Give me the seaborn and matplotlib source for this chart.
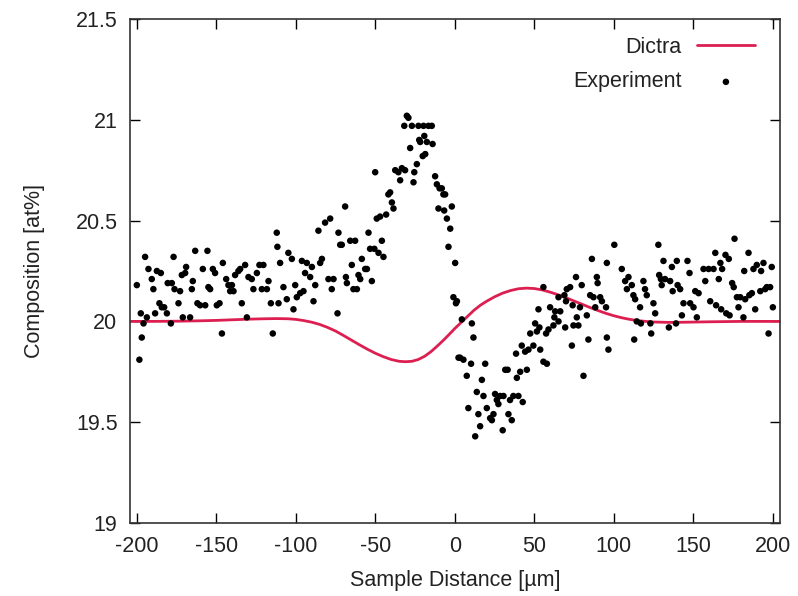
import matplotlib
matplotlib.use("Agg")
import matplotlib.pyplot as plt
import seaborn as sns
import pandas as pd

# Dictra simulated profile
dictra_x = [-205, -190, -175, -160, -150, -140, -130, -120, -112, -105, -100, -95, -90,
            -85, -80, -75, -70, -65, -60, -55, -50, -45, -40, -35, -31, -27, -23, -19,
            -15, -11, -7, -3, 0, 4, 8, 12, 16, 20, 25, 30, 35, 40, 45, 50, 55, 60, 65,
            70, 75, 80, 85, 90, 95, 100, 105, 110, 115, 120, 125, 135, 145, 160, 180, 205]
dictra_y = [20.000, 20.000, 20.001, 20.003, 20.005, 20.008, 20.011, 20.013, 20.014, 20.013,
            20.010, 20.004, 19.996, 19.985, 19.970, 19.952, 19.930, 19.907, 19.884, 19.862,
            19.842, 19.825, 19.811, 19.802, 19.800, 19.802, 19.811, 19.827, 19.850, 19.878,
            19.908, 19.940, 19.965, 19.995, 20.025, 20.055, 20.080, 20.100, 20.122, 20.140,
            20.153, 20.162, 20.165, 20.163, 20.156, 20.145, 20.132, 20.117, 20.101, 20.085,
            20.069, 20.054, 20.040, 20.028, 20.018, 20.010, 20.004, 20.000, 19.997, 19.995,
            19.996, 19.998, 20.000, 20.000]

exp_x = [
    -200.0, -197.5, -195.8, -196.9, -198.4, -194.8, -192.7, -190.6, -189.6, -193.7,
    -188.5, -187.4, -184.9, -185.8, -184.3, -181.1, -182.8, -180.6, -178.0, -178.6,
    -176.9, -176.3, -173.8, -172.8, -171.1, -171.7, -169.0, -169.6, -166.5, -165.4,
    -164.8, -163.3, -161.9, -160.2, -158.5, -157.0, -155.6, -155.0, -153.9, -152.2,
    -150.8, -149.7, -148.0, -146.5, -145.9, -143.8, -142.4, -141.3, -139.2, -140.2,
    -138.2, -136.1, -135.0, -134.0, -131.9, -130.8, -129.8, -127.7, -126.7, -124.5,
    -122.9, -120.4, -121.4, -118.2, -117.2, -115.7, -114.5, -112.0, -111.6, -109.9,
    -110.9, -107.8, -105.7, -104.7,
    -102.5, -101.5, -100.4, -99.4, -97.3, -96.2, -95.2, -94.2, -93.1, -91.0,
    -89.9, -88.9, -87.8, -85.8, -84.7, -83.6, -81.6, -78.4, -79.5, -77.4,
    -76.3, -73.2, -73.8, -72.1, -71.1, -69.0, -68.5, -67.9, -65.8, -64.8,
    -63.8, -62.7, -61.6, -60.6, -59.5, -58.5, -56.4, -55.3, -54.3, -53.3,
    -52.2, -50.6, -50.1, -49.1, -48.0, -47.0, -45.9, -44.9, -43.2, -41.8,
    -40.7, -39.6, -38.6, -37.5, -35.5, -34.4, -33.3, -31.3, -30.2, -29.2,
    -31.8, -28.1, -27.0, -26.0, -25.5, -23.9, -22.9, -22.4, -21.8, -19.7,
    -19.2, -20.2, -18.6, -17.6, -16.6, -14.5, -14.0, -12.4, -11.3, -10.3,
    -9.6, -8.2, -7.2, -6.7, -6.1, -5.0, -4.0, -2.9, -1.9, 0.2,
    -0.9, 0.7, 1.3, 2.3,
    4.4, 10.7, 11.7, 3.3, 5.4, 10.2, 19.1, 7.5, 17.0, 13.8,
    18.0, 8.5, 20.1, 25.3, 26.4, 28.5, 27.4, 30.6, 24.3, 22.2,
    23.3, 33.7, 35.8, 34.7, 36.8, 40.0, 42.7, 14.8, 15.9, 12.8,
    30.1, 31.7, 33.2, 39.0, 41.1, 45.3, 38.5, 42.1, 44.2, 46.3,
    49.4, 53.7, 55.7, 57.9, 47.4, 50.5, 51.6, 53.2, 57.4, 58.9,
    62.0, 65.2, 52.6, 59.9, 63.1, 62.6, 66.3, 69.4, 73.6, 74.6,
    76.7, 77.7, 80.9, 83.0, 84.0, 55.7, 65.2, 68.9, 70.4, 72.5,
    69.9, 74.1, 76.2, 79.8, 78.7, 86.2, 89.3, 89.8, 85.1, 87.2,
    91.4, 92.5, 88.3, 95.6, 95.6, 96.6, 95.1,
    100.3, 105.0, 109.2, 107.1, 111.3, 108.2, 112.3, 113.4, 116.5, 114.4,
    117.0, 112.8, 118.6, 119.6, 120.7, 124.9, 126.0, 128.0, 131.2, 128.5,
    129.6, 132.2, 130.1, 135.4, 136.5, 137.0, 139.6, 140.1, 141.7, 123.0,
    123.5, 134.6, 139.1, 142.8, 143.8, 146.3, 147.6, 148.0, 150.1, 152.2,
    151.2, 153.3, 156.4, 159.6, 162.7, 157.5, 163.8, 160.6, 164.3, 166.0,
    167.0, 168.1, 170.2, 172.3, 167.5, 170.7, 172.8, 174.4, 175.4, 175.9,
    177.4, 178.4, 181.5, 179.5, 182.6, 182.0, 184.7, 185.2, 186.8, 187.8,
    188.9, 189.9, 192.1, 194.1, 195.2, 196.2, 198.3, 199.3, 197.3, 200.0,
    192.6,
]
exp_y = [
    20.18, 20.04, 19.99, 19.92, 19.81, 20.32, 20.26, 20.21, 20.16, 20.02,
    20.04, 20.25, 20.24, 20.09, 20.07, 20.04, 20.07, 20.19, 20.19, 19.99,
    20.32, 20.16, 20.09, 20.15, 20.02, 20.23, 20.27, 20.24, 20.02, 20.16,
    20.20, 20.35, 20.09, 20.08, 20.26, 20.08, 20.35, 20.17, 20.16, 20.26,
    20.24, 20.08, 20.09, 19.94, 20.29, 20.21, 20.18, 20.15, 20.15, 20.18,
    20.23, 20.25, 20.26, 20.09, 20.28, 20.02, 20.22, 20.21, 20.16, 20.24,
    20.28, 20.28, 20.16, 20.16, 20.20, 20.09, 19.94, 20.44, 20.37, 20.29,
    20.09, 20.17, 20.11, 20.34,
    20.31, 20.06, 20.18, 20.12, 20.14, 20.30, 20.15, 20.24, 20.29, 20.22,
    20.27, 20.10, 20.18, 20.45, 20.29, 20.31, 20.49, 20.51, 20.21, 20.16,
    20.21, 20.44, 20.04, 20.38, 20.38, 20.57, 20.22, 20.19, 20.40, 20.28,
    20.16, 20.40, 20.16, 20.23, 20.21, 20.31, 20.26, 20.26, 20.44, 20.36,
    20.20, 20.36, 20.74, 20.51, 20.34, 20.52, 20.40, 20.32, 20.53, 20.63,
    20.64, 20.59, 20.56, 20.75, 20.74, 20.70, 20.76, 20.75, 21.02, 21.01,
    20.97, 20.86, 20.97, 20.69, 20.74, 20.78, 20.97, 20.90, 20.89, 20.97,
    20.92, 20.82, 20.83, 20.89, 20.97, 20.97, 20.88, 20.72, 20.68, 20.56,
    20.66, 20.66, 20.63, 20.55, 20.63, 20.51, 20.37, 20.46, 20.57, 20.29,
    20.12, 20.09, 20.10, 19.82,
    20.01, 19.99, 19.92, 19.82, 19.81, 19.79, 19.79, 19.73, 19.71, 19.65,
    19.63, 19.57, 19.57, 19.64, 19.61, 19.63, 19.59, 19.63, 19.54, 19.52,
    19.51, 19.54, 19.51, 19.61, 19.63, 19.63, 19.60, 19.54, 19.48, 19.43,
    19.46, 19.76, 19.76, 19.72, 19.75, 19.76, 19.84, 19.88, 19.85, 19.86,
    19.88, 19.86, 19.80, 19.79, 19.94, 19.99, 19.95, 19.97, 19.94, 19.96,
    19.98, 20.00, 20.06, 20.07, 20.05, 20.02, 20.05, 19.97, 19.88, 19.98,
    20.02, 19.98, 19.73, 20.03, 19.91, 20.17, 20.12, 20.13, 20.16, 20.17,
    20.10, 20.08, 20.22, 20.18, 20.07, 20.31, 20.22, 20.19, 20.13, 20.12,
    20.12, 20.10, 20.07, 20.29, 19.92, 19.86, 20.07,
    20.38, 20.26, 20.22, 20.20, 20.18, 20.16, 20.13, 20.11, 20.07, 20.00,
    19.99, 19.91, 20.20, 20.16, 20.13, 20.09, 20.04, 20.38, 20.30, 20.23,
    20.21, 20.21, 20.18, 20.20, 20.27, 20.15, 20.30, 20.18, 20.16, 19.99,
    19.94, 19.97, 19.99, 20.03, 20.09, 20.30, 20.24, 20.09, 20.07, 20.02,
    20.15, 20.14, 20.26, 20.26, 20.26, 20.20, 20.34, 20.10, 20.08, 20.21,
    20.29, 20.26, 20.33, 20.31, 20.06, 20.04, 20.03, 20.19, 20.17, 20.41,
    20.12, 20.07, 20.02, 20.12, 20.11, 20.25, 20.34, 20.13, 20.14, 20.26,
    20.06, 20.28, 20.15, 20.29, 20.16, 20.17, 20.17, 20.27, 19.94, 20.07,
    20.25,
]

x_ticks = [-200, -150, -100, -50, 0, 50, 100, 150, 200]
y_ticks = [19, 19.5, 20, 20.5, 21, 21.5]
y_tick_labels = ["19", "19.5", "20", "20.5", "21", "21.5"]

sns.set_theme(style="ticks")
plt.rcParams["font.family"] = ["Liberation Sans", "DejaVu Sans"]

FS = 15.5
fig = plt.figure(figsize=(7.98, 5.96), dpi=100)
ax = fig.add_axes([130 / 798, 73 / 596, 650 / 798, 504 / 596])

dictra_df = pd.DataFrame({"x": dictra_x, "y": dictra_y})
exp_df = pd.DataFrame({"x": exp_x, "y": exp_y})

sns.lineplot(data=dictra_df, x="x", y="y", ax=ax, color="#dc1f50", linewidth=2.0,
             label="Dictra", sort=True, estimator=None, zorder=2)
sns.scatterplot(data=exp_df, x="x", y="y", ax=ax, color="black", s=22, marker="o",
                edgecolor="none", linewidth=0, label="Experiment", zorder=3)

ax.set_xlim(-204.3, 204.5)
ax.set_ylim(19, 21.5)
ax.set_xticks(x_ticks)
ax.set_xticklabels([str(v) for v in x_ticks])
ax.set_yticks(y_ticks)
ax.set_yticklabels(y_tick_labels)
ax.tick_params(direction="in", top=True, right=True, length=7, width=1,
               colors="black", labelsize=FS, labelcolor="#222222")
ax.tick_params(axis="x", pad=9)
ax.tick_params(axis="y", pad=9)
for sp in ax.spines.values():
    sp.set_visible(True)
    sp.set_color("#333333")
    sp.set_linewidth(1.2)

ax.set_xlabel("Sample Distance [µm]", fontsize=FS, color="#222222", labelpad=10)
ax.set_ylabel("Composition [at%]", fontsize=FS, color="#222222", labelpad=22)

handles, labels = ax.get_legend_handles_labels()
leg_kw = dict(frameon=False, markerfirst=False, fontsize=FS, handlelength=2.7,
              handletextpad=0.7, borderpad=0, borderaxespad=0, loc="center right")
leg1 = ax.legend([handles[0]], [labels[0]], bbox_to_anchor=(0.9615, 0.944), **leg_kw)
ax.add_artist(leg1)
leg2 = ax.legend([handles[1]], [labels[1]], bbox_to_anchor=(0.9615, 0.875), **leg_kw)
for lg in (leg1, leg2):
    for t in lg.get_texts():
        t.set_color("#222222")

fig.savefig("out.png", dpi=100)
